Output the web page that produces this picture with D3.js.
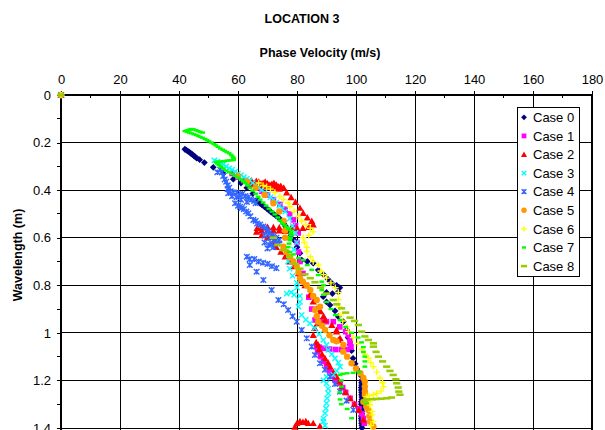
<!DOCTYPE html>
<html><head><meta charset="utf-8">
<script src="https://cdn.jsdelivr.net/npm/d3@7"></script>
<style>body{margin:0;background:#fff}svg{display:block}text{font-family:"Liberation Sans",Arial,sans-serif;fill:#000}</style>
</head><body><svg id="c" width="605" height="430"></svg>
<script>
const chartTitle = "LOCATION 3";
const xTitle = "Phase Velocity (m/s)";
const yTitle = "Wavelength (m)";
const xTicks = [0,20,40,60,80,100,120,140,160,180];
const yTicks = [0,0.2,0.4,0.6,0.8,1,1.2,1.4];
const yTickLabels = ["0","0.2","0.4","0.6","0.8","1","1.2","1.4"];
const seriesNames = ["Case 0","Case 1","Case 2","Case 3","Case 4","Case 5","Case 6","Case 7","Case 8"];
const seriesColors = ["#000080","#FF00FF","#FF0000","#00FFFF","#3366FF","#FF9900","#FFFF00","#00FF00","#99CC00"];
const seriesMarkers = ["diamond","square","triangle","x","star","circle","plus","dash","longdash"];

// [velocity m/s, wavelength m]
const case0 = [[0,0],[42,0.228],[42.5,0.232],[43,0.236],[43.5,0.24],[44,0.245],[44.5,0.25],[45,0.255],[45.5,0.26],[46,0.265],[47,0.272],[48.6,0.284],[51.6,0.304],[55,0.33],[58.4,0.354],[61,0.37],[63,0.39],[65,0.415],[66.5,0.44],[67.5,0.455],[68.2,0.463],[69,0.47],[69.8,0.478],[70.5,0.485],[71.2,0.492],[72,0.5],[72.8,0.507],[73.5,0.513],[74.2,0.52],[75,0.53],[75.5,0.54],[76,0.55],[77,0.57],[78,0.59],[79,0.61],[80,0.64],[81,0.665],[81.6,0.694],[83.5,0.7],[85.5,0.707],[87.2,0.736],[89,0.755],[90.5,0.775],[91.7,0.79],[93.4,0.8],[94.5,0.81],[94,0.828],[92,0.835],[90,0.83],[88.9,0.848],[90,0.87],[91.2,0.883],[92.9,0.908],[94,0.932],[95.7,0.953],[96.8,0.988],[97.3,1.02],[98,1.05],[98.5,1.075],[99,1.107],[99.7,1.13],[100.2,1.15],[101,1.165],[101.7,1.18],[101.9,1.2],[101.9,1.21],[101.9,1.22],[101.8,1.23],[101.8,1.24],[101.9,1.25],[101.9,1.26],[102,1.27],[102,1.28],[101.8,1.29],[101.8,1.3],[101.9,1.31],[101.9,1.32],[102,1.33],[102,1.34],[101.8,1.35],[101.8,1.36],[101.9,1.37],[101.9,1.38],[102,1.39],[102,1.4]];
const case1 = [[0,0],[58,0.33],[60,0.345],[62,0.36],[64,0.375],[66,0.39],[68,0.405],[70,0.42],[72,0.44],[74.2,0.46],[76,0.48],[77.5,0.5],[78.8,0.525],[79.5,0.55],[80.4,0.58],[80,0.62],[80.5,0.66],[81,0.7],[82,0.75],[83,0.8],[84,0.85],[85,0.9],[86.1,0.946],[88,0.95],[90,0.953],[92.3,0.953],[94.5,0.975],[96.5,0.995],[97.4,1.009],[98,1.03],[98,1.044],[98.3,1.06],[97,1.07],[95,1.07],[93,1.07],[91,1.068],[89,1.065],[87.5,1.06],[86.7,1.058],[87,1.08],[88,1.1],[89,1.12],[90,1.142],[91,1.16],[92,1.18],[93,1.2],[94.6,1.212],[95.5,1.23],[96.5,1.25],[98,1.275],[99.5,1.3],[101,1.32],[102,1.34],[102.5,1.36],[102.8,1.38]];
const case2 = [[0,0],[64.5,0.36],[65.5,0.37],[66.2,0.362],[67,0.365],[67.8,0.372],[68.5,0.37],[69.2,0.365],[70,0.372],[70.8,0.378],[71.5,0.375],[72.2,0.37],[73,0.378],[73.8,0.385],[74.5,0.383],[75.5,0.39],[65,0.375],[66.5,0.38],[68,0.382],[69.5,0.385],[71,0.388],[72.5,0.392],[74,0.395],[76.5,0.41],[78,0.43],[79.5,0.45],[81,0.475],[82.1,0.497],[83.5,0.515],[85,0.53],[85.5,0.545],[84,0.555],[82,0.56],[80,0.56],[78,0.56],[76,0.56],[74,0.558],[72,0.556],[70,0.555],[68,0.556],[66.5,0.56],[68,0.57],[70,0.568],[72,0.57],[74,0.57],[76,0.572],[66.3,0.575],[68,0.59],[70,0.6],[72,0.62],[73,0.64],[74.5,0.66],[76,0.68],[77.5,0.7],[79,0.72],[80.5,0.75],[81.6,0.78],[82.7,0.8],[84.4,0.84],[85.5,0.869],[86.5,0.9],[88,0.91],[89,0.93],[89.5,0.946],[87,0.96],[86,0.98],[85.5,1.009],[86.5,1.04],[87.2,1.05],[87.5,1.07],[88.5,1.09],[89.5,1.107],[90.5,1.125],[91.2,1.142],[92.3,1.165],[93.4,1.184],[94.2,1.205],[95.1,1.226],[96.5,1.25],[98,1.275],[99.5,1.3],[101,1.325],[102.5,1.366],[91.8,0.967],[93.4,0.995],[94.6,1.023],[93.4,0.988],[94,1.03],[79.3,1.395],[80,1.38],[81,1.372],[82,1.375],[83,1.372],[83.8,1.38],[85.5,1.38],[87.8,1.392]];
const case3 = [[0,0],[52,0.275],[53,0.28],[54,0.285],[55,0.292],[56,0.3],[57,0.308],[58,0.315],[59,0.322],[60,0.33],[61,0.337],[62,0.345],[63,0.352],[64,0.36],[65,0.37],[66,0.38],[67,0.39],[68,0.4],[69,0.41],[70,0.42],[71,0.43],[72,0.44],[73,0.452],[74,0.465],[75,0.478],[76,0.49],[77.5,0.52],[78.5,0.55],[79.5,0.58],[79.9,0.62],[79,0.65],[78,0.68],[77,0.7],[77.5,0.73],[78.5,0.76],[79.9,0.79],[80,0.81],[78,0.83],[76.5,0.835],[79,0.84],[81,0.845],[81,0.87],[80.5,0.89],[81.6,0.925],[83,0.945],[84.4,0.96],[86,0.98],[87.5,1.005],[88.9,1.03],[90,1.05],[90.6,1.072],[91.8,1.09],[92.9,1.107],[94,1.125],[94.6,1.142],[93.5,1.16],[92.3,1.177],[90,1.185],[89,1.2],[90,1.212],[90.6,1.235],[90.6,1.254],[90.2,1.275],[90,1.296],[89.8,1.318],[89.5,1.338],[89,1.36],[88.9,1.373],[89.5,1.39]];
const case4 = [[0,0],[53,0.325],[54,0.315],[54.5,0.325],[55,0.34],[55.5,0.355],[56,0.365],[56.5,0.38],[56.5,0.395],[57,0.39],[56.7,0.413],[57.5,0.405],[58.5,0.41],[59.5,0.41],[60.5,0.42],[61.5,0.415],[62.5,0.425],[63.5,0.43],[64.5,0.44],[65.5,0.445],[66,0.455],[63,0.45],[61,0.44],[59.5,0.43],[58,0.425],[59,0.455],[60,0.465],[60.7,0.47],[61.2,0.475],[62,0.48],[62.8,0.49],[63.5,0.497],[64.2,0.51],[65.2,0.525],[66,0.53],[66.5,0.54],[67.5,0.545],[68.6,0.553],[69.5,0.56],[70,0.57],[70.5,0.58],[69,0.59],[71.5,0.59],[72,0.595],[71,0.6],[73,0.6],[72.5,0.61],[74,0.61],[74,0.625],[73,0.62],[71.5,0.625],[70.5,0.63],[69,0.62],[72,0.64],[70,0.645],[63,0.68],[64,0.69],[65.5,0.69],[67,0.7],[68.5,0.705],[70,0.71],[71.5,0.72],[73,0.728],[64,0.715],[66.3,0.743],[68.6,0.778],[71.4,0.82],[73.7,0.862],[75.5,0.88],[77,0.904],[78.5,0.93],[79.9,0.953],[81.6,0.988],[83.3,1.023],[85,1.058],[86.1,1.093],[87.8,1.128],[89.5,1.155],[91.2,1.184],[92.9,1.215],[94.6,1.247],[96.8,1.285],[99.1,1.324]];
const case5 = [[0,0],[60,0.34],[63,0.365],[66,0.39],[69,0.42],[72,0.455],[74,0.49],[75.5,0.53],[76,0.57],[76,0.6],[75.4,0.638],[76.5,0.66],[77.6,0.68],[78.8,0.7],[79.9,0.72],[80.5,0.745],[81,0.77],[82,0.785],[83.3,0.8],[84.5,0.82],[85.5,0.845],[86.7,0.862],[87.8,0.89],[86.1,0.904],[86.7,0.93],[87.2,0.953],[88.5,0.97],[89.5,0.988],[91,1.01],[92.3,1.03],[93.4,1.035],[95.7,1.051],[95.7,1.079],[97,1.1],[98.5,1.128],[100,1.15],[101.5,1.17],[102.5,1.19],[103,1.205],[103,1.226],[103,1.245],[103,1.26],[102.5,1.29],[103.5,1.31],[104.2,1.324],[104.5,1.35],[104.7,1.373],[105.9,1.394]];
const case6 = [[0,0],[67,0.37],[68.5,0.38],[69.7,0.385],[71,0.395],[72.5,0.41],[74.2,0.427],[75.5,0.44],[77,0.455],[77.6,0.47],[79,0.49],[80.4,0.51],[81.6,0.53],[83,0.545],[84.5,0.56],[85.5,0.575],[84,0.59],[82.1,0.6],[82.5,0.62],[83.3,0.64],[83.3,0.658],[84.5,0.68],[85.5,0.7],[87.2,0.715],[88,0.74],[89,0.755],[90,0.77],[91.5,0.79],[93,0.81],[94,0.83],[94,0.86],[94.3,0.89],[94.6,0.925],[95.5,0.95],[96.8,0.975],[97.4,0.995],[99,1.02],[100.5,1.045],[102,1.07],[103,1.09],[104.2,1.107],[105,1.125],[105.9,1.142],[107,1.165],[108.1,1.19],[109,1.21],[109.3,1.226],[108.5,1.245],[107,1.255],[105.9,1.26],[104.5,1.265],[103.6,1.268],[104.7,1.29],[104.7,1.303],[105.3,1.33],[105.5,1.345],[105.9,1.373],[105,1.39]];
const case7 = [[0,0],[42,0.152],[42.5,0.15],[43,0.148],[43.5,0.146],[44,0.143],[44.5,0.144],[45,0.145],[45.8,0.148],[46.5,0.152],[47.2,0.155],[48,0.158],[42.8,0.155],[43.5,0.158],[44.2,0.161],[45,0.165],[45.8,0.168],[46.5,0.172],[47.2,0.176],[48,0.18],[48.8,0.185],[49.5,0.19],[50.2,0.195],[51,0.2],[51.8,0.206],[52.5,0.212],[53.2,0.218],[54,0.225],[54.8,0.23],[55.5,0.235],[56.2,0.24],[57,0.245],[57.7,0.252],[58.3,0.26],[58.5,0.267],[58.5,0.273],[57.8,0.274],[57,0.275],[56.2,0.276],[55.5,0.278],[54.8,0.279],[54,0.28],[53.2,0.281],[52.5,0.282],[53,0.288],[53.5,0.295],[54.2,0.302],[55,0.31],[56,0.318],[57,0.325],[58,0.332],[59,0.34],[60,0.348],[61,0.355],[61.7,0.362],[62.4,0.37],[63.2,0.38],[64,0.39],[65,0.402],[66,0.415],[66.8,0.428],[67.5,0.44],[68.5,0.452],[69.5,0.465],[70.5,0.478],[71.5,0.49],[72.5,0.502],[73.5,0.515],[74.2,0.528],[75,0.54],[75.8,0.548],[76.5,0.555],[77.2,0.562],[78,0.57],[78,0.58],[78,0.59],[77.8,0.6],[77.6,0.61],[77.3,0.625],[77,0.64],[77.5,0.66],[78.8,0.67],[80.5,0.685],[82.1,0.694],[83.5,0.715],[85,0.735],[87.2,0.757],[88.4,0.785],[89,0.8],[88.4,0.82],[89,0.84],[90,0.87],[91.5,0.9],[93,0.925],[94.6,0.946],[96.5,0.975],[98.5,1.0],[100.7,1.02],[101.9,1.04],[102.5,1.06],[102.5,1.08],[103,1.1],[103,1.12],[103,1.142],[101,1.165],[99,1.168],[97,1.17],[95.5,1.172],[94.6,1.177],[95,1.2],[95.1,1.226],[94.5,1.25],[94.6,1.28],[95,1.3],[97,1.32],[98.5,1.359],[103.6,1.296]];
const case8 = [[0,0],[72,0.6],[73.5,0.63],[75.4,0.652],[77.5,0.68],[79.5,0.71],[81,0.73],[82.7,0.754],[84.5,0.77],[86.1,0.787],[88,0.81],[90,0.835],[92.3,0.862],[93.5,0.88],[95.1,0.897],[96.5,0.915],[98,0.936],[99.5,0.95],[100.8,0.967],[101.9,0.995],[103,1.015],[104.2,1.03],[105.9,1.044],[105.9,1.058],[106.8,1.08],[107.6,1.1],[109,1.12],[110.4,1.142],[111.5,1.16],[112.6,1.177],[113.5,1.195],[113.8,1.212],[114.3,1.23],[114.5,1.247],[114.9,1.26],[112,1.272],[110.4,1.275],[108.5,1.277],[107,1.278],[105.5,1.279],[103.6,1.28],[103,1.29]];
const seriesData = [case0,case1,case2,case3,case4,case5,case6,case7,case8];

const svg = d3.select("#c");
const W = 605, H = 430;
const x = d3.scaleLinear().domain([0,180]).range([61,592]);
const y = d3.scaleLinear().domain([0,1.4]).range([95,428]);
const yBottom = 440;

svg.append("rect").attr("width",W).attr("height",H).attr("fill","#fff");

// titles
svg.append("text").attr("x",302).attr("y",23).attr("text-anchor","middle")
  .attr("font-size",12.5).attr("font-weight","bold").text(chartTitle);
svg.append("text").attr("x",320).attr("y",57).attr("text-anchor","middle")
  .attr("font-size",12.5).attr("font-weight","bold").text(xTitle);
svg.append("text").attr("transform","translate(22,255) rotate(-90)").attr("text-anchor","middle")
  .attr("font-size",12.5).attr("font-weight","bold").text(yTitle);

// gridlines
const g = svg.append("g").attr("shape-rendering","crispEdges");
g.selectAll(".vg").data(xTicks.slice(1)).join("line")
  .attr("x1",d=>x(d)).attr("x2",d=>x(d)).attr("y1",y(0)).attr("y2",yBottom)
  .attr("stroke","#000").attr("stroke-width",1);
g.selectAll(".hg").data(yTicks.slice(1)).join("line")
  .attr("x1",x(0)).attr("x2",x(180)).attr("y1",d=>y(d)).attr("y2",d=>y(d))
  .attr("stroke","#000").attr("stroke-width",1);

// top x axis
const xAxis = d3.axisTop(x).tickValues(xTicks).tickSize(4).tickPadding(7).tickFormat(d3.format("d"));
const gx = svg.append("g").attr("transform",`translate(0,${y(0)})`).call(xAxis);
gx.select(".domain").remove();
gx.selectAll("text").attr("font-size",13).attr("font-family","Liberation Sans, Arial, sans-serif").attr("fill","#000");
gx.selectAll("line").attr("stroke","#000").attr("shape-rendering","crispEdges");
const xMinor = d3.range(10,180,20);
svg.append("g").attr("shape-rendering","crispEdges").selectAll("line").data(xMinor).join("line")
  .attr("x1",d=>x(d)).attr("x2",d=>x(d)).attr("y1",y(0)).attr("y2",y(0)+3).attr("stroke","#000");
svg.append("line").attr("x1",x(0)).attr("x2",x(180)).attr("y1",y(0)).attr("y2",y(0))
  .attr("stroke","#000").attr("stroke-width",2).attr("shape-rendering","crispEdges");

// left y axis
const yAxis = d3.axisLeft(y).tickValues(yTicks).tickSize(4).tickPadding(6).tickFormat((d,i)=>yTickLabels[i]);
const gy = svg.append("g").attr("transform",`translate(${x(0)},0)`).call(yAxis);
gy.select(".domain").remove();
gy.selectAll("text").attr("font-size",13).attr("font-family","Liberation Sans, Arial, sans-serif").attr("fill","#000");
gy.selectAll("line").attr("stroke","#000").attr("shape-rendering","crispEdges");
const yMinor = d3.range(0.1,1.45,0.2);
svg.append("g").attr("shape-rendering","crispEdges").selectAll("line").data(yMinor).join("line")
  .attr("x1",x(0)-4).attr("x2",x(0)).attr("y1",d=>y(d)).attr("y2",d=>y(d)).attr("stroke","#000");
svg.append("line").attr("x1",x(0)).attr("x2",x(0)).attr("y1",y(0)).attr("y2",yBottom)
  .attr("stroke","#000").attr("stroke-width",2).attr("shape-rendering","crispEdges");
svg.append("line").attr("x1",x(180)).attr("x2",x(180)).attr("y1",y(0)).attr("y2",yBottom)
  .attr("stroke","#000").attr("stroke-width",2).attr("shape-rendering","crispEdges");

// markers
function markerPath(type, s){
  switch(type){
    case "diamond": return `M0,${-s}L${s},0L0,${s}L${-s},0Z`;
    case "square": return `M${-s},${-s}H${s}V${s}H${-s}Z`;
    case "triangle": return `M0,${-s}L${s},${s*0.8}L${-s},${s*0.8}Z`;
    case "circle": return d3.symbol(d3.symbolCircle, Math.PI*s*s)();
    case "x": return `M${-s},${-s}L${s},${s}M${-s},${s}L${s},${-s}`;
    case "star": return `M${-s},${-s}L${s},${s}M${-s},${s}L${s},${-s}M0,${-s}V${s}`;
    case "plus": return `M${-s},0H${s}M0,${-s}V${s}`;
    case "dash": return `M${-s},0H${s}`;
    case "longdash": return `M${-s},0H${s}`;
  }
}
function styleMarker(sel, i){
  const t = seriesMarkers[i], c = seriesColors[i];
  const stroked = (t==="x"||t==="star"||t==="plus"||t==="dash"||t==="longdash");
  sel.attr("fill", stroked?"none":c).attr("stroke", stroked?c:"none")
     .attr("stroke-width", t==="longdash"?2.6:(t==="dash"?2.4:1.4));
}
const markerSize = {diamond:3.4,square:2.8,triangle:3.6,x:2.6,star:2.8,circle:3.2,plus:3.2,dash:2.4,longdash:3.6};

const plot = svg.append("g");
seriesData.forEach((data,i)=>{
  const t = seriesMarkers[i];
  plot.append("g").selectAll("path").data(data).join("path")
    .attr("transform",d=>`translate(${x(d[0])},${y(d[1])})`)
    .attr("d",markerPath(t,markerSize[t]))
    .call(sel=>styleMarker(sel,i));
});

// legend
const lg = svg.append("g");
lg.append("rect").attr("x",517.5).attr("y",107.5).attr("width",62).attr("height",169)
  .attr("fill","#fff").attr("stroke","#000").attr("stroke-width",1);
seriesNames.forEach((n,i)=>{
  const cy = 117.3 + i*18.6;
  const t = seriesMarkers[i];
  lg.append("path").attr("transform",`translate(524,${cy})`).attr("d",markerPath(t,markerSize[t]*0.85))
    .call(sel=>styleMarker(sel,i));
  lg.append("text").attr("x",533).attr("y",cy+4.6).attr("font-size",13).text(n);
});
</script></body></html>
